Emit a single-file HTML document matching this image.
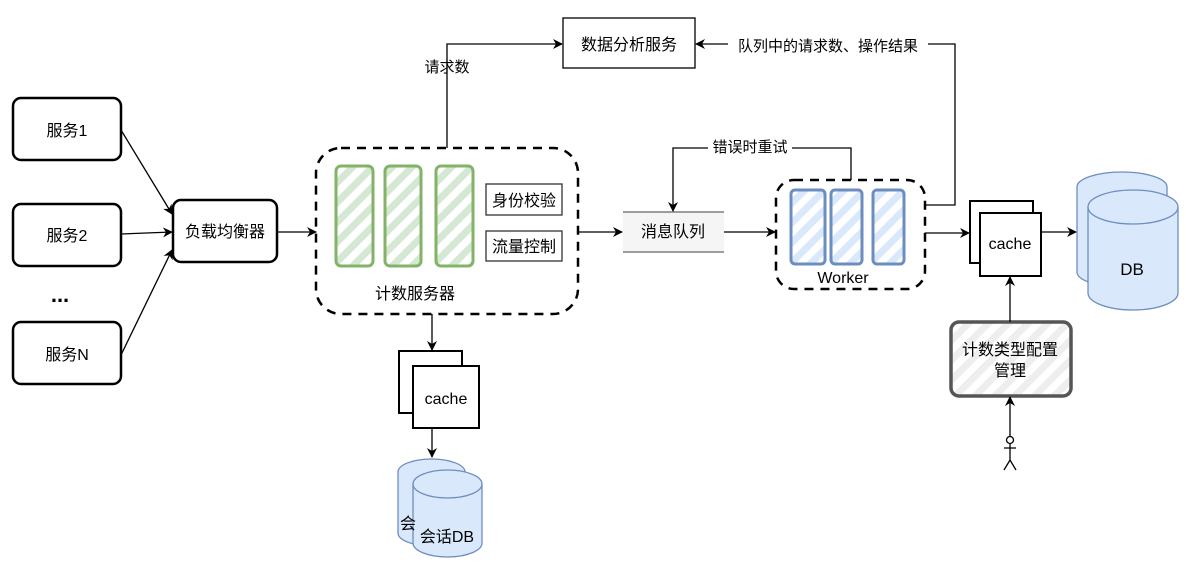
<!DOCTYPE html>
<html><head><meta charset="utf-8"><style>
html,body{margin:0;padding:0;background:#fff;}
svg{display:block;}
text{font-family:"Liberation Sans","Noto Sans CJK SC",sans-serif;fill:#000;}
</style></head><body>
<svg width="1193" height="584" viewBox="0 0 1193 584" xmlns="http://www.w3.org/2000/svg">
<defs>
<marker id="a" markerWidth="10" markerHeight="10" refX="9" refY="5" orient="auto" markerUnits="userSpaceOnUse"><path d="M0,0 L10,5 L0,10 L3,5 Z" fill="#000"/></marker>
<pattern id="hg" width="14" height="14" patternUnits="userSpaceOnUse" patternTransform="rotate(45)"><rect width="7" height="14" fill="#d5e8d4"/></pattern>
<pattern id="hb" width="14" height="14" patternUnits="userSpaceOnUse" patternTransform="rotate(45)"><rect width="7" height="14" fill="#dae8fc"/></pattern>
<pattern id="hw" width="14" height="14" patternUnits="userSpaceOnUse" patternTransform="rotate(45)"><rect width="7" height="14" fill="#eeeeee"/></pattern>
</defs>
<g fill="none" stroke="#000" stroke-width="1.3">
<rect x="13" y="98" width="108" height="62" rx="8" stroke-width="2.5"/>
<rect x="13" y="204" width="108" height="62" rx="8" stroke-width="2.5"/>
<rect x="13" y="322" width="108" height="62" rx="8" stroke-width="2.5"/>
<rect x="173" y="200" width="104" height="62" rx="8" stroke-width="2.5"/>
<path d="M121,130 L172,214" marker-end="url(#a)"/>
<path d="M121,234 L172,232" marker-end="url(#a)"/>
<path d="M121,355 L172,250" marker-end="url(#a)"/>
<path d="M277,232 L316,232" marker-end="url(#a)"/>
<rect x="316" y="148" width="262" height="166" rx="25" stroke-width="2.5" stroke-dasharray="9,7"/>
<rect x="336" y="166" width="37" height="100" rx="5" fill="url(#hg)" stroke="#82b366" stroke-width="3"/>
<rect x="385" y="166" width="36" height="100" rx="5" fill="url(#hg)" stroke="#82b366" stroke-width="3"/>
<rect x="436" y="166" width="37" height="100" rx="5" fill="url(#hg)" stroke="#82b366" stroke-width="3"/>
<rect x="486" y="184" width="76" height="31" fill="#fff" stroke="#333"/>
<rect x="486" y="231" width="76" height="30" fill="#fff" stroke="#333"/>
<rect x="563" y="18" width="132" height="50" fill="#fff"/>
<path d="M447,148 L447,44 L562,44" marker-end="url(#a)"/>
<path d="M925,205 L955,205 L955,44 L696,44" marker-end="url(#a)"/>
<path d="M578,232 L622,232" marker-end="url(#a)"/>
<rect x="623" y="212" width="101" height="40" fill="#f5f5f5" stroke="none"/>
<path d="M623,212 L724,212 M623,252 L724,252" stroke="#666"/>
<path d="M724,232 L775,232" marker-end="url(#a)"/>
<path d="M851,180 L851,148 L673,148 L673,211" marker-end="url(#a)"/>
<rect x="776" y="180" width="149" height="109" rx="18" stroke-width="2.5" stroke-dasharray="9,7"/>
<rect x="791" y="190" width="34" height="74" rx="4" fill="url(#hb)" stroke="#6c8ebf" stroke-width="3"/>
<rect x="831" y="190" width="31" height="74" rx="4" fill="url(#hb)" stroke="#6c8ebf" stroke-width="3"/>
<rect x="873" y="190" width="31" height="74" rx="4" fill="url(#hb)" stroke="#6c8ebf" stroke-width="3"/>
<path d="M925,233 L969,233" marker-end="url(#a)"/>
<rect x="970" y="201" width="63" height="62" fill="#fff" stroke-width="2"/>
<rect x="980" y="213" width="61" height="63" fill="#fff" stroke-width="2"/>
<path d="M1041,232 L1076,232" marker-end="url(#a)"/>
<g fill="#dae8fc" stroke="#6c8ebf">
<path d="M1077,187 A45,15 0 0 1 1167,187 L1167,272 A45,15 0 0 1 1077,272 Z"/>
<path d="M1088,207 A45,17 0 0 1 1178,207 L1178,293 A45,17 0 0 1 1088,293 Z"/>
<path d="M1088,207 A45,17 0 0 0 1178,207" fill="none"/>
</g>
<rect x="951" y="322" width="120" height="74" rx="8" fill="url(#hw)" stroke="#555" stroke-width="3.5"/>
<path d="M1010,322 L1010,277" marker-end="url(#a)"/>
<path d="M1010,437 L1010,397" marker-end="url(#a)"/>
<circle cx="1010" cy="440" r="3.5"/>
<path d="M1010,444 L1010,460 M1004,448 L1016,448 M1004,470 L1010,460 L1016,470"/>
<path d="M432,314 L432,350" marker-end="url(#a)"/>
<rect x="399" y="351" width="63" height="62" fill="#fff" stroke-width="2"/>
<rect x="413" y="366" width="66" height="62" fill="#fff" stroke-width="2"/>
<path d="M432,428 L432,457" marker-end="url(#a)"/>
<g fill="#dae8fc" stroke="#6c8ebf">
<path d="M398,472 A33.5,13 0 0 1 465,472 L465,533 A33.5,13 0 0 1 398,533 Z"/>
<path d="M413,484 A34.5,14 0 0 1 482,484 L482,543 A34.5,14 0 0 1 413,543 Z"/>
<path d="M413,484 A34.5,14 0 0 0 482,484" fill="none"/>
</g>
</g>
<g font-size="16" text-anchor="middle">
<text x="67" y="136">服务1</text>
<text x="67" y="241">服务2</text>
<text x="67" y="360">服务N</text>
<text x="60" y="302" font-size="22" font-weight="bold">...</text>
<text x="225" y="237">负载均衡器</text>
<text x="524" y="206">身份校验</text>
<text x="524" y="252">流量控制</text>
<text x="415" y="299">计数服务器</text>
<text x="629" y="50">数据分析服务</text>
<text x="447" y="72" font-size="15">请求数</text>
<rect x="728" y="35" width="200" height="18" fill="#fff"/>
<text x="828" y="51" font-size="15">队列中的请求数、操作结果</text>
<text x="673" y="237">消息队列</text>
<rect x="708" y="138" width="84" height="18" fill="#fff"/>
<text x="750" y="152" font-size="15">错误时重试</text>
<text x="843" y="283">Worker</text>
<text x="1010" y="249">cache</text>
<text x="1132" y="275" font-size="17">DB</text>
<text x="1010" y="355">计数类型配置</text>
<text x="1010" y="376">管理</text>
<text x="446" y="404">cache</text>
<text x="408" y="529">会</text>
<text x="447" y="542">会话DB</text>
</g>
</svg>
</body></html>
